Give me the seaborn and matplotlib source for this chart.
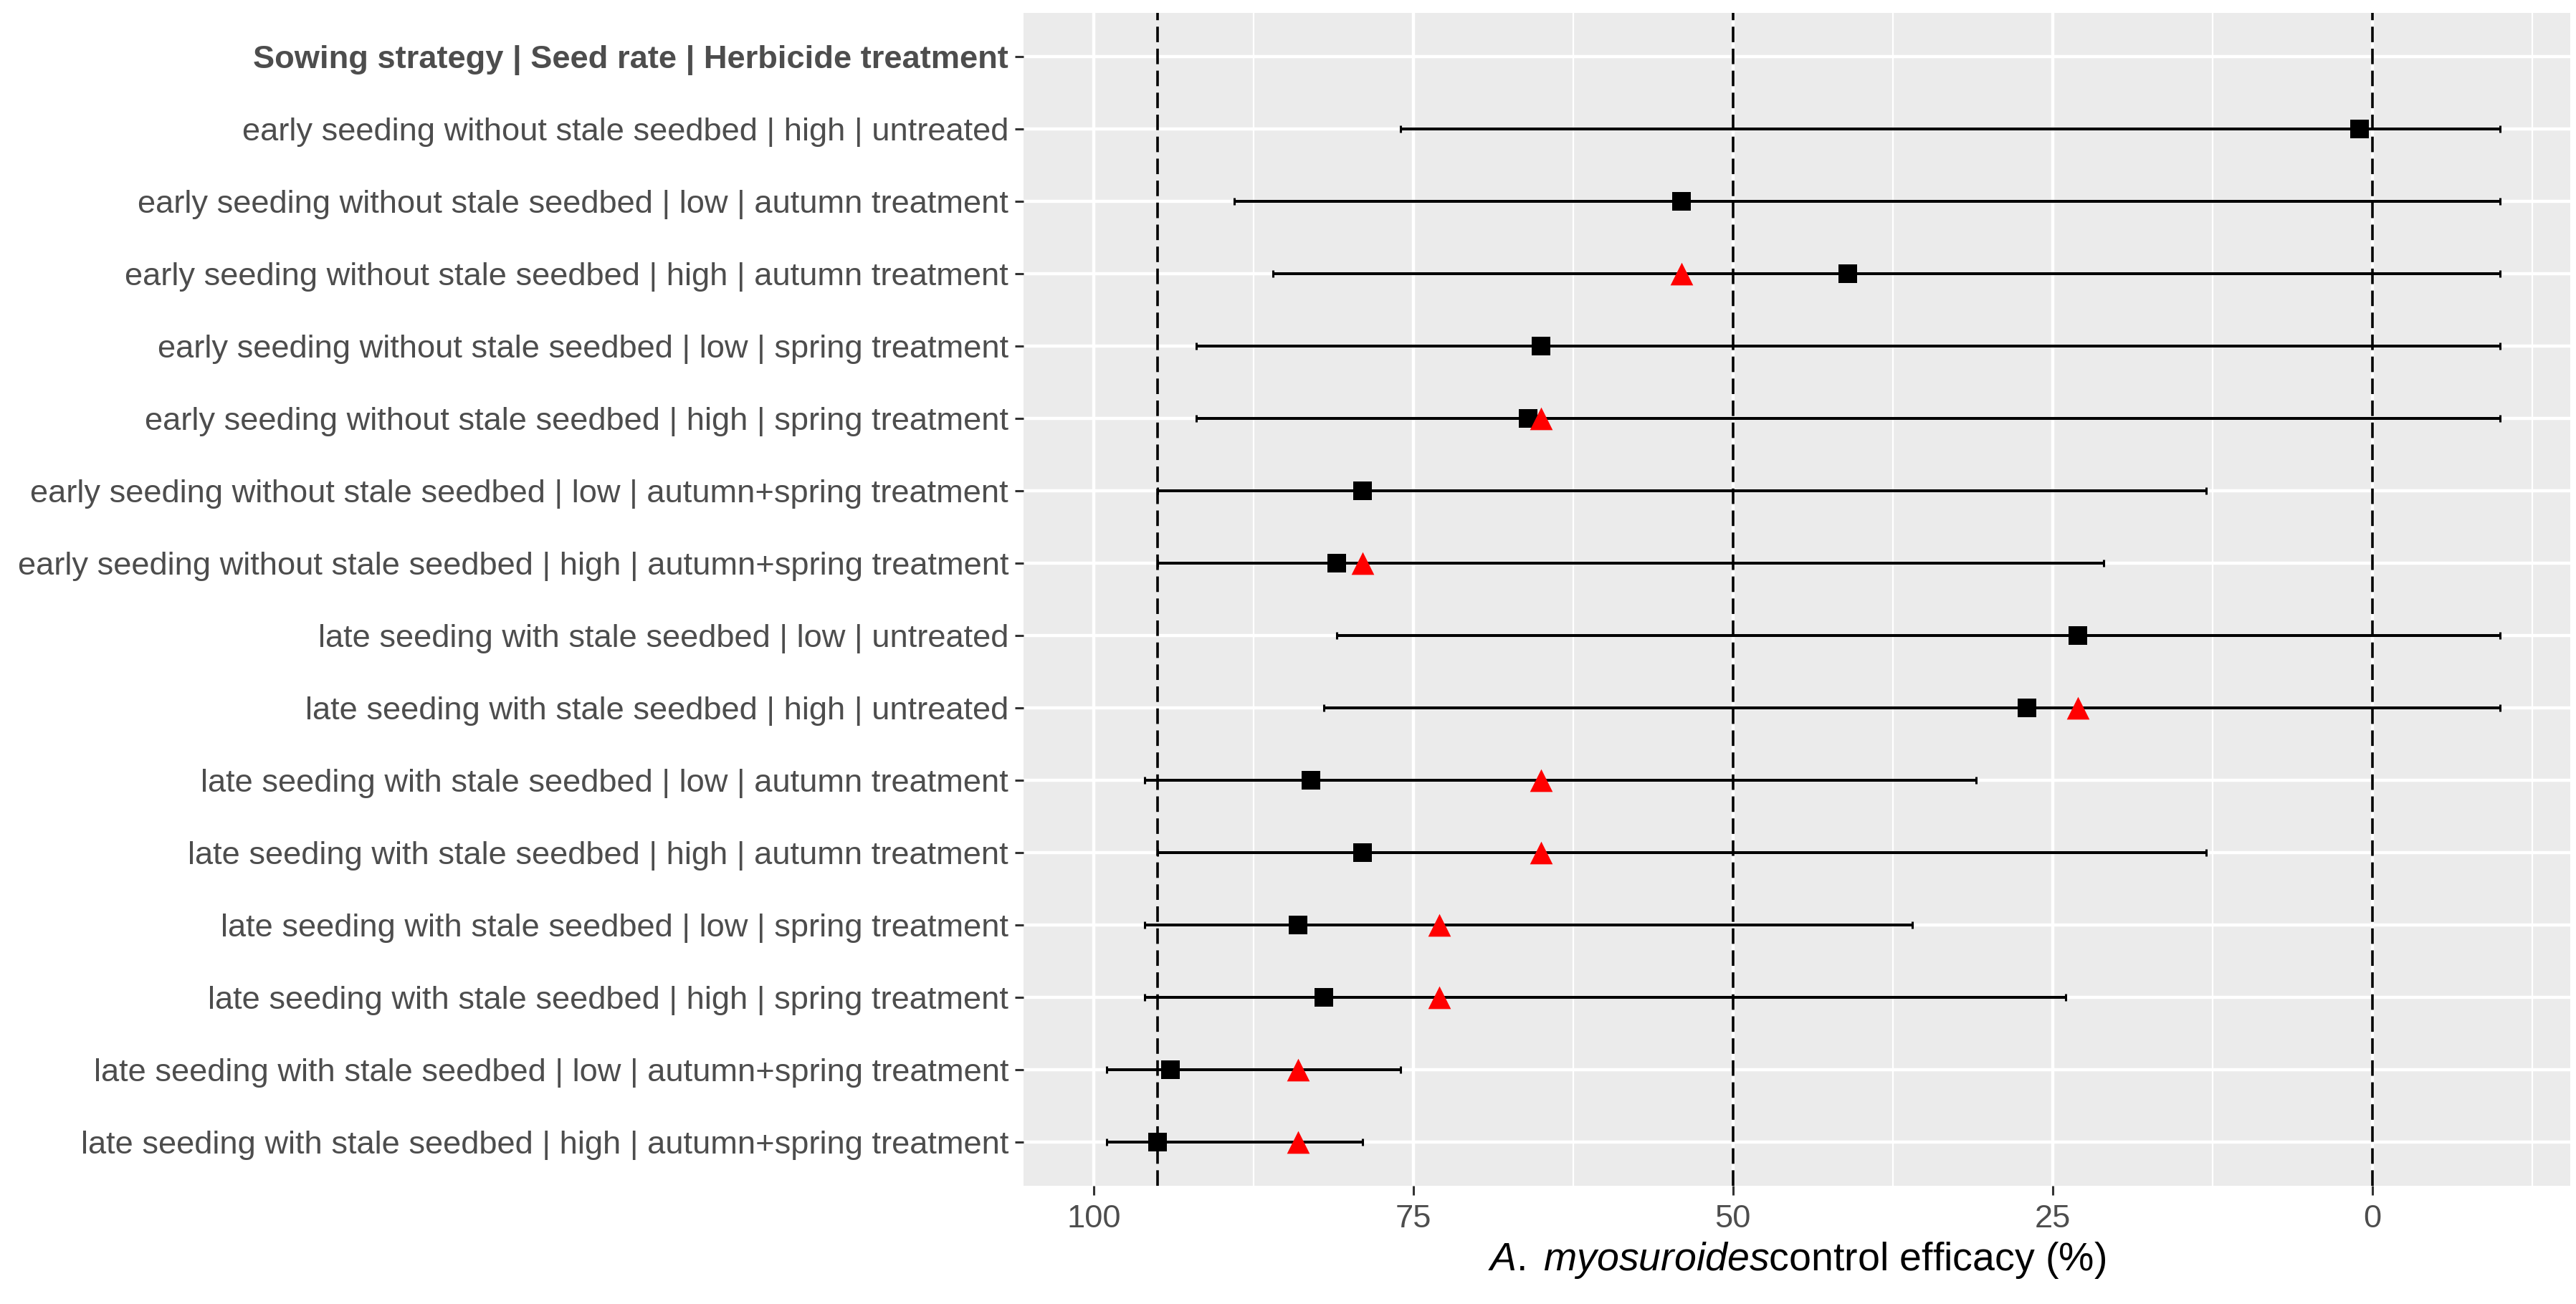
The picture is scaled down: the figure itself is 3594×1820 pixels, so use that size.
import numpy as np
import pandas as pd
import matplotlib
matplotlib.use("Agg")
import matplotlib.pyplot as plt
import seaborn as sns

# categories (top to bottom)
labels = [
    "Sowing strategy | Seed rate | Herbicide treatment",
    "early seeding without stale seedbed | high | untreated",
    "early seeding without stale seedbed | low | autumn treatment",
    "early seeding without stale seedbed | high | autumn treatment",
    "early seeding without stale seedbed | low | spring treatment",
    "early seeding without stale seedbed | high | spring treatment",
    "early seeding without stale seedbed | low | autumn+spring treatment",
    "early seeding without stale seedbed | high | autumn+spring treatment",
    "late seeding with stale seedbed | low | untreated",
    "late seeding with stale seedbed | high | untreated",
    "late seeding with stale seedbed | low | autumn treatment",
    "late seeding with stale seedbed | high | autumn treatment",
    "late seeding with stale seedbed | low | spring treatment",
    "late seeding with stale seedbed | high | spring treatment",
    "late seeding with stale seedbed | low | autumn+spring treatment",
    "late seeding with stale seedbed | high | autumn+spring treatment",
]
nan = np.nan
efficacy = [nan, 1, 54, 41, 65, 66, 79, 81, 23, 27, 83, 79, 84, 82, 94, 95]
ci_low = [nan, -10, -10, -10, -10, -10, 13, 21, -10, -10, 31, 13, 36, 24, 76, 79]
ci_high = [nan, 76, 89, 86, 92, 92, 95, 95, 81, 82, 96, 95, 96, 96, 99, 99]
efficacy_2 = [nan, nan, nan, 54, nan, 65, nan, 79, nan, 23, 65, 65, 73, 73, 84, 84]
ref_lines = [95, 50, 0]
x_ticks = [100, 75, 50, 25, 0]

df = pd.DataFrame({
    "label": labels,
    "pos": np.arange(len(labels)),
    "eff": efficacy,
    "lo": ci_low,
    "hi": ci_high,
    "eff2": efficacy_2,
})

sns.set_theme(style="darkgrid", rc={
    "axes.facecolor": "#EBEBEB",
    "grid.color": "white",
    "axes.edgecolor": "#EBEBEB",
})
plt.rcParams["font.family"] = ["Liberation Sans", "DejaVu Sans"]
plt.rcParams["mathtext.fontset"] = "custom"
plt.rcParams["mathtext.rm"] = "Liberation Sans"
plt.rcParams["mathtext.it"] = "Liberation Sans:italic"

fig = plt.figure(figsize=(17.97, 9.1), dpi=200)
ax = fig.add_axes([0.3973, 0.0907, 0.6005, 0.8993])

# grid
ax.set_xticks([87.5, 62.5, 37.5, 12.5, -12.5], minor=True)
ax.grid(which="major", color="white", linewidth=1.6)
ax.grid(which="minor", axis="x", color="white", linewidth=0.8)
ax.set_axisbelow(True)

# dashed reference lines
for v in ref_lines:
    ax.axvline(v, color="black", linestyle=(0, (6, 2.5)), linewidth=1.3, zorder=1.5)

# confidence intervals
d = df.dropna(subset=["eff"])
ax.errorbar(d["eff"], d["pos"],
            xerr=[d["eff"] - d["lo"], d["hi"] - d["eff"]],
            fmt="none", ecolor="black", elinewidth=1.45, capsize=1.8,
            capthick=1.1, zorder=2)

sns.scatterplot(data=df, x="eff", y="pos", marker="s", color="black",
                s=90, linewidth=0, ax=ax, zorder=3)
sns.scatterplot(data=df, x="eff2", y="pos", marker="^", color="#FF0000",
                s=130, linewidth=0, ax=ax, zorder=4)

ax.set_xlim(105.5, -15.5)
ax.set_ylim(len(labels) - 0.4, -0.6)
ax.set_xticks(x_ticks)
ax.set_xticklabels([str(t) for t in x_ticks])
ax.set_yticks(df["pos"])
ax.set_yticklabels(labels)
ax.tick_params(axis="both", which="major", labelsize=16.3, labelcolor="#4D4D4D",
               color="#333333", length=4.5, width=1.1, pad=3, left=True, bottom=True)
ax.tick_params(axis="x", which="major", pad=5)
ax.tick_params(axis="x", which="minor", length=0)
ax.get_yticklabels()[0].set_fontweight("bold")

ax.set_ylabel("")
ax.set_xlabel(r"$\mathit{A.\;myosuroides}$control efficacy (%)",
              fontsize=20, color="black", labelpad=3)

for s in ax.spines.values():
    s.set_visible(False)

fig.savefig("out.png", dpi=200)
